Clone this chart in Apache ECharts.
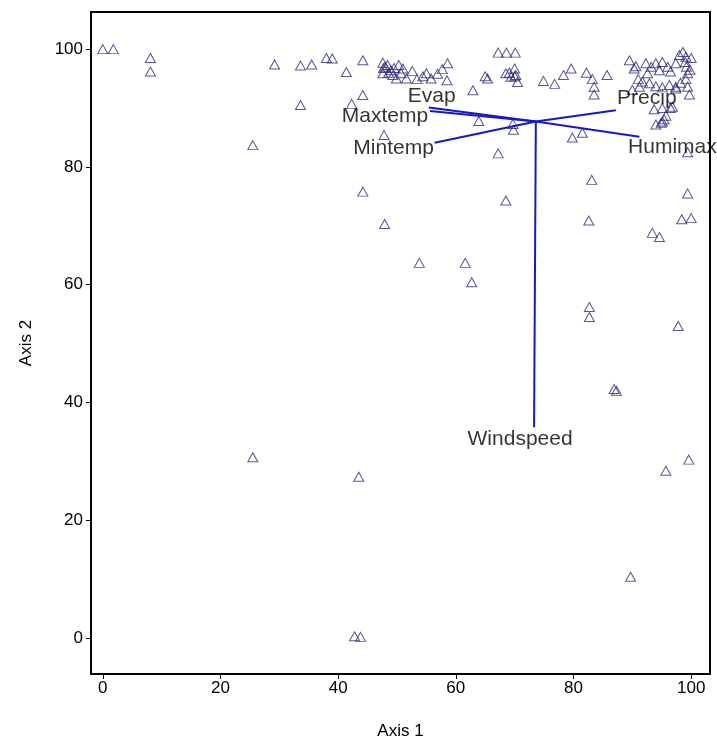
<!DOCTYPE html>
<html>
<head>
<meta charset="utf-8">
<script src="https://cdn.jsdelivr.net/npm/echarts@6/dist/echarts.min.js"></script>
<style>
html,body{margin:0;padding:0;background:#fff;}
#chart{width:717px;height:745px;}
</style>
</head>
<body>
<div id="chart"></div>
<script>
// ---- data ----
var xTicks = [0, 20, 40, 60, 80, 100];
var yTicks = [0, 20, 40, 60, 80, 100];
var xAxisName = 'Axis 1';
var yAxisName = 'Axis 2';

var sitePoints = [
  [0,100],[1.8,100],[8.1,98.5],[8.1,96.2],[29.2,97.4],[33.6,97.2],[35.5,97.4],[38.0,98.5],[39.0,98.4],
  [41.4,96.1],[44.2,98.1],[33.6,90.5],[42.3,90.7],[44.2,92.2],[25.5,83.7],[47.8,85.4],[44.2,75.8],
  [47.9,70.3],[53.8,63.7],[61.6,63.7],[62.7,60.4],[25.5,30.7],[43.5,27.4],[42.8,0.3],[43.8,0.2],
  [89.7,10.4],[95.7,28.4],[99.6,30.3],
  [47.6,97.7],[47.7,96.8],[47.6,95.9],[48.4,97.3],[49.0,96.4],[49.3,95.6],[49.9,95.0],[50.3,97.3],
  [50.7,95.9],[51.0,96.7],[51.6,95.0],[52.6,96.3],[53.4,94.9],[54.4,95.4],[55.0,95.9],[55.8,95.0],
  [56.9,95.8],[57.7,96.6],[58.6,97.6],[58.5,94.7],[48.0,97.0],[48.6,96.0],[49.5,96.8],
  [62.9,93.0],[63.9,87.8],[65.0,95.4],[65.4,95.0],[67.2,99.4],[68.6,99.4],[70.1,99.4],[68.5,95.9],
  [69.1,96.0],[70.0,96.7],[69.4,95.3],[70.0,95.4],[70.5,94.4],[70.2,95.6],[69.7,87.3],[69.8,86.3],
  [67.2,82.3],[68.5,74.3],[74.9,94.6],[76.8,94.1],[78.3,95.6],[79.6,96.7],[82.2,96.0],[83.2,94.9],
  [83.5,93.6],[83.5,92.3],[85.7,95.6],[79.8,85.0],[81.5,85.8],[83.1,77.8],[82.6,70.9],[82.7,56.2],
  [82.7,54.5],[86.9,42.3],[87.3,42.0],[97.8,53.0],[93.4,68.8],[94.6,68.1],[98.4,71.1],[100,71.3],
  [99.4,75.5],[99.4,82.5],
  [89.5,98.1],[90.6,97.1],[90.3,96.7],[92.3,97.6],[93.2,97.0],[92.6,95.9],[94.0,97.6],[94.6,96.4],
  [95.1,97.8],[96.0,97.0],[96.5,96.2],[97.4,97.6],[98.0,99.0],[98.6,99.5],[99.1,98.7],[99.0,97.8],
  [99.2,97.0],[99.4,95.9],[99.1,94.9],[98.2,94.3],[97.4,93.6],[96.3,93.9],[95.1,93.5],[94.0,93.7],
  [92.9,94.2],[91.7,94.5],[91.2,93.6],[90.0,93.1],[91.0,94.9],[99.4,93.6],[97.4,93.3],[100,98.5],
  [99.8,96.5],[99.7,92.3],[93.7,89.8],[95.1,90.0],[96.5,90.0],[96.8,90.2],[94.0,87.2],[94.9,87.5],
  [95.4,88.1],[95.7,88.7],[95.1,87.7]
];

var vectorOrigin = [73.6, 87.7];
var vectorNames = ['Evap', 'Maxtemp', 'Mintemp', 'Precip', 'Humimax', 'Windspeed'];
var vectorEnds = [[55.4,90.1],[55.6,89.5],[56.4,84.1],[87.2,89.6],[91.2,85.1],[73.3,35.8]];

// ---- styles (label placement offsets, px) ----
var labelOffsets = {
  Evap:      [3,-11],
  Maxtemp:   [-45,5],
  Mintemp:   [-41,5],
  Precip:    [31,-12],
  Humimax:   [33,10],
  Windspeed: [-14,12]
};

var FONT = '"Liberation Sans", Arial, sans-serif';
var series = [];

series.push({
  type:'scatter',
  data: sitePoints,
  symbol:'triangle',
  symbolSize:[10,9],
  itemStyle:{color:'rgba(0,0,0,0)', borderColor:'#2c2c80', borderWidth:1},
  emphasis:{disabled:true},
  z:2
});

vectorNames.forEach(function(name, i){
  series.push({
    type:'line',
    data:[vectorOrigin, vectorEnds[i]],
    symbol:'none',
    lineStyle:{color:'#1818c8', width:2},
    emphasis:{disabled:true},
    z:3
  });
});

series.push({
  type:'scatter',
  symbolSize:0,
  data: vectorNames.map(function(name, i){
    return {
      value: vectorEnds[i],
      name: name,
      label:{show:true, position:'inside', formatter:name, align:'center', verticalAlign:'middle',
             offset:labelOffsets[name], color:'#000', textBorderWidth:0,
             fontSize:21, fontFamily:FONT}
    };
  }),
  emphasis:{disabled:true},
  z:5
});

var chart = echarts.init(document.getElementById('chart'));
chart.setOption({
  animation:false,
  backgroundColor:'#fff',
  grid:{left:91, right:7, top:12, bottom:69, show:true, borderColor:'#000', borderWidth:2, containLabel:false},
  xAxis:{
    type:'value', min:-2, max:103.2,
    name:xAxisName, nameLocation:'middle', nameGap:49,
    nameTextStyle:{color:'#000', fontSize:17, fontFamily:FONT},
    axisLine:{show:true, onZero:false, lineStyle:{color:'#000', width:2}},
    axisTick:{show:true, length:5, customValues:xTicks, lineStyle:{color:'#000'}},
    axisLabel:{customValues:xTicks, color:'#000', fontSize:17, fontFamily:FONT, margin:6},
    splitLine:{show:false}
  },
  yAxis:{
    type:'value', min:-6.1, max:106.3,
    name:yAxisName, nameLocation:'middle', nameGap:56,
    nameTextStyle:{color:'#000', fontSize:17, fontFamily:FONT},
    axisLine:{show:true, onZero:false, lineStyle:{color:'#000', width:2}},
    axisTick:{show:true, length:5, customValues:yTicks, lineStyle:{color:'#000'}},
    axisLabel:{customValues:yTicks, color:'#000', fontSize:17, fontFamily:FONT, margin:8},
    splitLine:{show:false}
  },
  series:series
});
</script>
</body>
</html>
